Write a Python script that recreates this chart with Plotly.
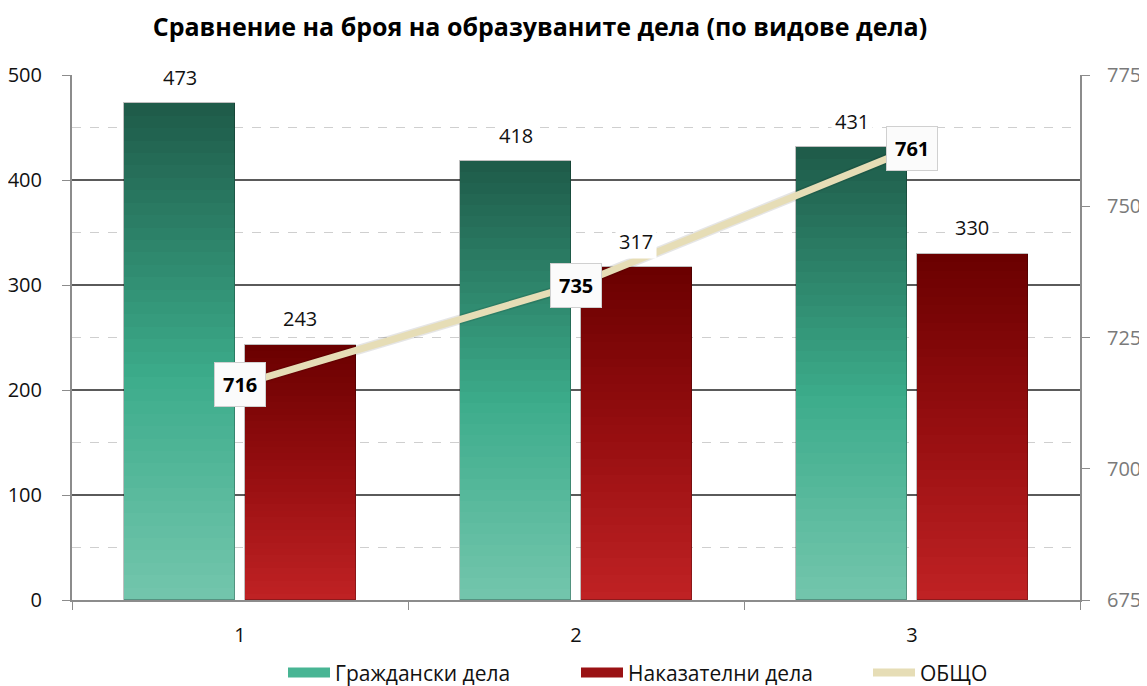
import plotly.graph_objects as go

categories = ["1", "2", "3"]
civil = [473, 418, 431]
criminal = [243, 317, 330]
total = [716, 735, 761]

title = "Сравнение на броя на образуваните дела (по видове дела)"
name_civil = "Граждански дела"
name_criminal = "Наказателни дела"
name_total = "ОБЩО"

FONT = "Open Sans"


def lerp(c1, c2, t):
    return tuple(round(a + (b - a) * t) for a, b in zip(c1, c2))


def grad(stops, t):
    for (p1, c1), (p2, c2) in zip(stops, stops[1:]):
        if p1 <= t <= p2:
            return lerp(c1, c2, (t - p1) / (p2 - p1) if p2 > p1 else 0)
    return stops[-1][1]


green_stops = [(0.0, (116, 198, 173)), (0.45, (60, 172, 139)), (1.0, (30, 90, 72))]
red_stops = [(0.0, (192, 34, 36)), (0.5, (150, 14, 16)), (1.0, (106, 0, 0))]

N = 40
W = 0.33
fig = go.Figure()


def add_series(values, stops, offset):
    for k in range(N):
        f = (N - k) / N
        c = grad(stops, f - 0.5 / N)
        fig.add_trace(go.Bar(
            x=categories, y=[v * f for v in values],
            width=W, offset=offset,
            marker=dict(color="rgb(%d,%d,%d)" % c, line=dict(width=0)),
            showlegend=False, hoverinfo="skip",
        ))
    fig.add_trace(go.Bar(
        x=categories, y=values, width=W, offset=offset,
        marker=dict(color="rgba(0,0,0,0)", line=dict(width=1, color="rgba(0,0,0,0.25)")),
        showlegend=False, hoverinfo="skip",
    ))


add_series(civil, green_stops, -0.345)
add_series(criminal, red_stops, 0.015)

# shadow for line
fig.add_trace(go.Scatter(
    x=categories, y=total, yaxis="y2", mode="lines",
    line=dict(color="rgba(0,0,0,0.10)", width=10),
    showlegend=False, hoverinfo="skip",
))
fig.add_trace(go.Scatter(
    x=categories, y=total, yaxis="y2", mode="lines", name=name_total,
    line=dict(color="#E6DDB6", width=7), showlegend=False,
))

# legend entries, one legend each for exact placement
fig.add_trace(go.Scatter(x=[None], y=[None], mode="lines", name=name_civil,
                         line=dict(color="#48b594", width=14), legend="legend"))
fig.add_trace(go.Scatter(x=[None], y=[None], mode="lines", name=name_criminal,
                         line=dict(color="#9a1214", width=14), legend="legend2"))
fig.add_trace(go.Scatter(x=[None], y=[None], mode="lines", name=name_total,
                         line=dict(color="#E6DDB6", width=8), legend="legend3"))

annotations = []
for i, v in enumerate(civil):
    annotations.append(dict(
        x=i - 0.345 + W / 2, y=v, xref="x", yref="y", text=str(v),
        showarrow=False, yshift=26, bgcolor="white",
        font=dict(family=FONT, size=20, color="#111"), borderpad=3,
    ))
for i, v in enumerate(criminal):
    annotations.append(dict(
        x=i + 0.015 + W / 2, y=v, xref="x", yref="y", text=str(v),
        showarrow=False, yshift=26, bgcolor="white",
        font=dict(family=FONT, size=20, color="#111"), borderpad=3,
    ))
for i, v in enumerate(total):
    annotations.append(dict(
        x=i, y=v, xref="x", yref="y2", text="<b>%d</b>" % v,
        showarrow=False, bgcolor="#fbfbfb", bordercolor="#d0d0d0", borderwidth=1,
        borderpad=8, font=dict(family=FONT, size=20, color="#000"),
    ))


def leg(x):
    return dict(orientation="h", x=x, xanchor="left", xref="container",
                y=0.031, yanchor="middle", yref="container", itemwidth=42,
                font=dict(family=FONT, size=21, color="#111"),
                bgcolor="rgba(0,0,0,0)")


fig.update_layout(
    width=1147, height=686,
    margin=dict(l=64, r=75, t=67, b=94),
    paper_bgcolor="white", plot_bgcolor="white",
    barmode="overlay", bargap=0,
    font=dict(family=FONT, size=20, color="#111"),
    title=dict(text="<b>" + title + "</b>", x=0.4638, xanchor="center", y=0.972,
               yanchor="middle", font=dict(family=FONT, size=25, color="#000")),
    showlegend=True,
    legend=leg(275 / 1147),
    legend2=leg(568 / 1147),
    legend3=leg(860 / 1147),
    annotations=annotations,
    xaxis=dict(
        type="category", range=[-0.5, 2.5], showgrid=False, automargin=False,
        showline=True, linecolor="#8c8c8c", linewidth=2,
        ticks="outside", tickson="boundaries", ticklen=8, tickcolor="#8c8c8c",
        tickfont=dict(family=FONT, size=20, color="#111"), ticklabelstandoff=16,
    ),
    yaxis=dict(
        range=[0, 500], dtick=100, showgrid=True, gridcolor="#5a5a5a", gridwidth=1.6,
        showline=True, linecolor="#8c8c8c", linewidth=2, automargin=False,
        ticks="outside", ticklen=8, tickcolor="#8c8c8c",
        tickfont=dict(family=FONT, size=20, color="#111"), ticklabelstandoff=16,
        zeroline=False,
        minor=dict(dtick=50, showgrid=True, gridcolor="#cfcfcf", griddash="dash",
                   gridwidth=1),
    ),
    yaxis2=dict(
        range=[675, 775], dtick=25, overlaying="y", side="right", showgrid=False,
        showline=True, linecolor="#8c8c8c", linewidth=2, automargin=False,
        ticks="outside", ticklen=8, tickcolor="#8c8c8c", ticklabelstandoff=13,
        tickfont=dict(family=FONT, size=20, color="#7a7a7a"), zeroline=False,
    ),
)

fig.write_html("out.html")
